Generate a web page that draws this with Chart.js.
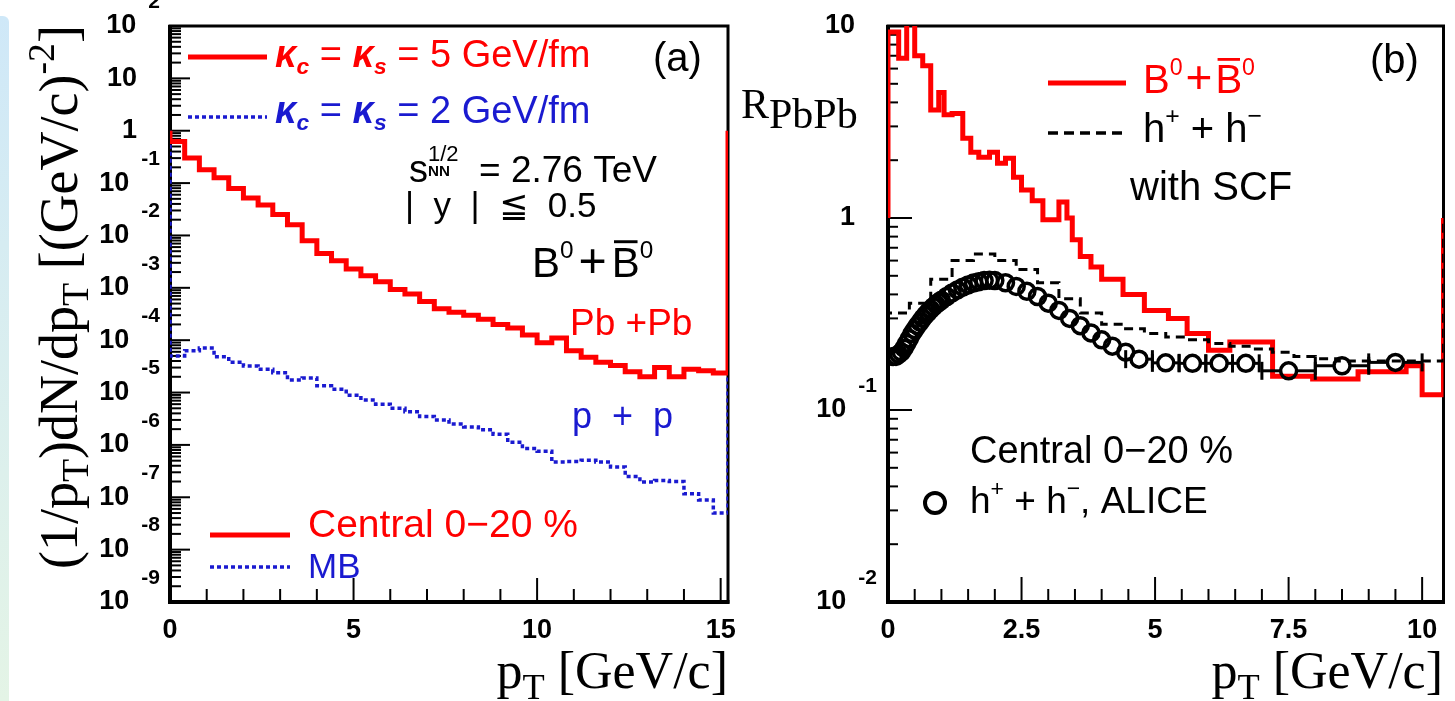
<!DOCTYPE html>
<html>
<head>
<meta charset="utf-8">
<script src="https://cdn.jsdelivr.net/npm/chart.js@4.4.0/dist/chart.umd.min.js"></script>
<style>
  body { margin: 0; background: #fff; width: 1455px; height: 701px; overflow: hidden; position: relative; }
  #strip { position: absolute; left: 0; top: 16px; width: 9px; height: 685px;
           background: linear-gradient(#cfe8f8, #e4f4e6); border-top-right-radius: 6px; }
  #ca { position: absolute; left: 0; top: 0; }
  #cb { position: absolute; left: 735px; top: 0; }
</style>
</head>
<body>
<div id="strip"></div>
<canvas id="ca" width="735" height="701"></canvas>
<canvas id="cb" width="720" height="701"></canvas>
<script>
const SANS = "'Liberation Sans', Arial, 'DejaVu Sans', sans-serif";
const SERIF = "'Liberation Serif', 'Times New Roman', serif";
const RED = "#f00";
const BLUE = "#1a1ad0";

// ---- panel (a): B0 pT spectra, bin edges in GeV/c ----
const ptEdgesA = [0, 0.4, 0.8, 1.2, 1.6, 2, 2.4, 2.8, 3.2, 3.6, 4, 4.4, 4.8, 5.2, 5.6, 6, 6.4, 6.8, 7.2, 7.6,
  8, 8.4, 8.8, 9.2, 9.6, 10, 10.4, 10.8, 11.2, 11.6, 12, 12.4, 12.8, 13.2, 13.6, 14, 14.4, 14.8, 15.2];
const centralA = [0.62, 0.3, 0.18, 0.126, 0.079, 0.052, 0.038, 0.025, 0.016, 0.0079,
  0.0045, 0.0033, 0.0023, 0.0017, 0.0013, 9.3e-4, 7.6e-4, 5.5e-4, 4.0e-4, 3.4e-4,
  3.0e-4, 2.5e-4, 2.0e-4, 1.7e-4, 1.26e-4, 8.9e-5, 1.1e-4, 6.3e-5, 4.7e-5, 3.8e-5,
  3.3e-5, 2.5e-5, 2.0e-5, 3.0e-5, 2.0e-5, 2.8e-5, 2.6e-5, 2.35e-5];
const mbA = [5.0e-5, 6.3e-5, 7.1e-5, 4.8e-5, 3.8e-5, 3.2e-5, 2.8e-5, 2.4e-5, 1.74e-5, 1.9e-5,
  1.35e-5, 1.15e-5, 8.9e-6, 7.2e-6, 6.0e-6, 5.0e-6, 4.3e-6, 3.5e-6, 3.0e-6, 2.5e-6,
  2.2e-6, 1.95e-6, 1.6e-6, 1.12e-6, 8.5e-7, 7.6e-7, 4.7e-7, 4.8e-7, 5.1e-7, 4.7e-7,
  3.8e-7, 2.5e-7, 1.95e-7, 2.1e-7, 2.0e-7, 1.17e-7, 8.9e-8, 5.0e-8];
const xTicksA = [0, 5, 10, 15];
const yExpA = [-9, -8, -7, -6, -5, -4, -3, -2, -1, 0, 1, 2];

// ---- panel (b): R_PbPb ----
const ptEdgesB = [0, 0.2, 0.35, 0.5, 0.65, 0.8, 0.95, 1.05, 1.2, 1.4, 1.55, 1.7, 1.9, 2.05, 2.2, 2.35, 2.5,
  2.7, 2.9, 3.0, 3.2, 3.35, 3.45, 3.6, 3.8, 4.0, 4.4, 4.8, 5.25, 5.6, 6.0, 6.4, 7.2, 7.95, 8.8, 9.7, 10.0, 10.4];
const raaB0 = [9.3, 6.8, 11, 7.0, 6.2, 3.65, 4.5, 3.45, 3.5, 2.6, 2.2, 2.07, 2.2, 1.93, 2.05, 1.63, 1.4,
  1.23, 0.98, 0.98, 1.21, 1.0, 0.77, 0.63, 0.556, 0.48, 0.4, 0.33, 0.3, 0.25, 0.205, 0.226, 0.15, 0.145,
  0.158, 0.17, 0.12];
const hadronEdges = [0, 0.4, 0.8, 1.2, 1.6, 2.0, 2.4, 2.8, 3.2, 3.6, 4.0, 4.4, 4.8, 5.2, 5.6, 6.0, 6.4,
  6.8, 7.2, 7.6, 8.0, 8.4, 8.8, 9.2, 9.6, 10.0, 10.4];
const raaHadronSCF = [0.32, 0.36, 0.48, 0.6, 0.65, 0.6, 0.54, 0.46, 0.38, 0.32, 0.28, 0.265, 0.25,
  0.24, 0.232, 0.222, 0.215, 0.208, 0.2, 0.19, 0.185, 0.18, 0.18, 0.18, 0.18, 0.18];
const aliceX = [0.1, 0.15, 0.2, 0.25, 0.3, 0.35, 0.4, 0.45, 0.5, 0.55, 0.6, 0.65, 0.7, 0.75, 0.8, 0.85,
  0.9, 0.95, 1.0, 1.1, 1.2, 1.3, 1.4, 1.5, 1.6, 1.7, 1.8, 1.9, 2.0, 2.2, 2.4, 2.6, 2.8, 3.0, 3.2, 3.4,
  3.6, 3.8, 4.0, 4.2, 4.45, 4.7, 5.2, 5.7, 6.2, 6.7, 7.5, 8.5, 9.5];
const aliceY = [0.19, 0.19, 0.195, 0.2, 0.21, 0.222, 0.235, 0.25, 0.262, 0.275, 0.287, 0.3, 0.312,
  0.323, 0.334, 0.345, 0.355, 0.364, 0.373, 0.39, 0.407, 0.422, 0.436, 0.448, 0.458, 0.466, 0.472,
  0.474, 0.472, 0.46, 0.44, 0.415, 0.39, 0.36, 0.33, 0.3, 0.275, 0.252, 0.232, 0.215, 0.2, 0.184,
  0.176, 0.175, 0.175, 0.175, 0.16, 0.17, 0.177];
const aliceXerr = [0.025, 0.025, 0.025, 0.025, 0.025, 0.025, 0.025, 0.025, 0.025, 0.025, 0.025, 0.025,
  0.025, 0.025, 0.025, 0.025, 0.025, 0.025, 0.025, 0.05, 0.05, 0.05, 0.05, 0.05, 0.05, 0.05, 0.05,
  0.05, 0.05, 0.1, 0.1, 0.1, 0.1, 0.1, 0.1, 0.1, 0.1, 0.1, 0.1, 0.1, 0.125, 0.25, 0.25, 0.25, 0.25,
  0.25, 0.5, 0.5, 0.5];
const xTicksB = [0, 2.5, 5, 7.5, 10];
const yExpB = [-2, -1, 0, 1];

// histogram outline as step points (ROOT style, closed up to 1 at both ends)
function hist(edges, vals) {
  const pts = [{ x: edges[0], y: 1 }];
  vals.forEach((v, i) => pts.push({ x: edges[i], y: v }));
  const last = edges[edges.length - 1];
  pts.push({ x: last, y: vals[vals.length - 1] });
  pts.push({ x: last, y: 1 });
  return pts;
}

// draw text made of pieces (sub/superscripts, overbar)
function txt(ctx, x, y, parts, o) {
  const segs = parts.map(p => (typeof p === "string" ? { t: p } : Object.assign({}, p)));
  let w = 0;
  segs.forEach(p => {
    const sz = o.size * (p.s || 1);
    p.font = (p.it ? "italic " : "") + (p.b || o.bold ? "bold " : "") + sz + "px " + (p.fam || o.fam || SANS);
    ctx.font = p.font;
    p.w = p.gap !== undefined ? p.gap : ctx.measureText(p.t).width;
    if (!p.noAdv) w += p.w;
  });
  let cx = o.align === "right" ? x - w : o.align === "center" ? x - w / 2 : x;
  ctx.fillStyle = o.color || "#000";
  ctx.strokeStyle = o.color || "#000";
  ctx.textAlign = "left";
  ctx.textBaseline = "alphabetic";
  segs.forEach(p => {
    const yy = y + (p.dy || 0) * o.size;
    ctx.font = p.font;
    if (p.t) ctx.fillText(p.t, cx, yy);
    if (p.bar) {
      ctx.lineWidth = o.size * 0.07;
      ctx.beginPath();
      ctx.moveTo(cx + p.w * 0.08, yy - o.size * 0.84);
      ctx.lineTo(cx + p.w * 0.92, yy - o.size * 0.84);
      ctx.stroke();
    }
    if (!p.noAdv) cx += p.w;
  });
}

function seg(ctx, x0, y0, x1, y1) {
  ctx.beginPath(); ctx.moveTo(x0, y0); ctx.lineTo(x1, y1); ctx.stroke();
}

function legendLine(ctx, x0, x1, y, color, width, dash) {
  ctx.save();
  ctx.strokeStyle = color; ctx.lineWidth = width; ctx.setLineDash(dash || []);
  seg(ctx, x0, y, x1, y);
  ctx.restore();
}

const bMeson = gap => ["B", { t: "0", s: 0.58, dy: -0.45 }, { t: "", gap: gap }, { t: "+", s: 1.15 },
  { t: "", gap: gap }, { t: "B", bar: true }, { t: "0", s: 0.58, dy: -0.45 }];

// ROOT-like frame, inward ticks and labels
function rootAxes(cfg) {
  return {
    id: "rootAxes",
    beforeDatasetsDraw(chart) {
      const { ctx, chartArea: a, scales: { x, y } } = chart;
      ctx.save();
      ctx.strokeStyle = "#000";
      ctx.lineWidth = 3;
      ctx.strokeRect(a.left, a.top, a.right - a.left, a.bottom - a.top);
      ctx.lineWidth = 4;
      seg(ctx, a.left, a.top - 1, a.left, a.bottom + 2);
      seg(ctx, a.left - 2, a.bottom, a.right + 1.5, a.bottom);
      ctx.lineWidth = 2;
      for (let i = 0; i * cfg.xMinor <= x.max + 1e-9; i++) {
        const v = i * cfg.xMinor;
        const major = Math.abs(v / cfg.xMajor - Math.round(v / cfg.xMajor)) < 1e-6;
        const px = x.getPixelForValue(v);
        seg(ctx, px, a.bottom, px, a.bottom - (major ? cfg.xMajLen : cfg.xMinLen));
      }
      const e0 = Math.round(Math.log10(y.min)), e1 = Math.round(Math.log10(y.max));
      for (let e = e0; e < e1; e++) {
        for (let k = 1; k <= 9; k++) {
          const py = y.getPixelForValue(k * Math.pow(10, e));
          seg(ctx, a.left, py, a.left + (k === 1 ? cfg.yMajLen : cfg.yMinLen), py);
        }
      }
      ctx.restore();
    },
    afterDraw(chart) {
      const { ctx, chartArea: a, scales: { x, y } } = chart;
      ctx.save();
      ctx.fillStyle = "#000";
      ctx.textBaseline = "alphabetic";
      ctx.textAlign = "center";
      ctx.font = "bold 27px " + SANS;
      cfg.xTicks.forEach(v => ctx.fillText(String(v), x.getPixelForValue(v), 638));
      ctx.textAlign = "right";
      ctx.textBaseline = "middle";
      cfg.yExps.forEach(e => {
        const py = y.getPixelForValue(Math.pow(10, e));
        if (e === 0 || e === 1) {
          ctx.font = "bold 27px " + SANS;
          ctx.fillText(e === 0 ? "1" : "10", a.left - 33, py);
        } else {
          ctx.font = "bold 21px " + SANS;
          const es = String(e);
          ctx.fillText(es, a.left - cfg.expOff, py - 24);
          const ew = ctx.measureText(es).width;
          ctx.font = "bold 27px " + SANS;
          ctx.fillText("10", a.left - cfg.expOff - ew - 12, py);
        }
      });
      ctx.restore();
      ctx.save();
      cfg.annotate(ctx, chart);
      ctx.restore();
    }
  };
}

// ---------------- panel (a) ----------------
new Chart(document.getElementById("ca"), {
  type: "line",
  data: {
    datasets: [
      { label: "Central 0-20 %", data: hist(ptEdgesA, centralA), borderColor: RED, borderWidth: 5, stepped: true },
      { label: "MB", data: hist(ptEdgesA, mbA), borderColor: BLUE, borderWidth: 3.5, borderDash: [4, 3], stepped: true }
    ]
  },
  options: {
    responsive: false,
    animation: false,
    layout: { padding: { left: 170, top: 26, right: 7, bottom: 99 } },
    plugins: { legend: { display: false }, tooltip: { enabled: false } },
    elements: { point: { radius: 0 } },
    scales: {
      x: { type: "linear", min: 0, max: 15.2, display: false },
      y: { type: "logarithmic", min: 1e-9, max: 100, display: false }
    }
  },
  plugins: [rootAxes({
    xMinor: 1, xMajor: 5, xMajLen: 24, xMinLen: 13, yMajLen: 20, yMinLen: 11,
    xTicks: xTicksA, yExps: yExpA, expOff: 10,
    annotate(ctx) {
      const kap = val => [{ t: "κ", it: true, b: true }, { t: "c", s: 0.6, dy: 0.18, it: true, b: true },
        " = ", { t: "κ", it: true, b: true }, { t: "s", s: 0.6, dy: 0.18, it: true, b: true }, " = " + val + " GeV/fm"];
      legendLine(ctx, 188, 267, 57, RED, 5);
      txt(ctx, 275, 67, kap(5), { size: 38, color: RED });
      legendLine(ctx, 188, 267, 117, BLUE, 3.5, [4, 3]);
      txt(ctx, 275, 123, kap(2), { size: 38, color: BLUE });
      txt(ctx, 653, 71, ["(a)"], { size: 40 });
      txt(ctx, 409, 182, ["s", { t: "NN", s: 0.4, dy: -0.17, b: true, noAdv: true }, { t: "1/2", s: 0.58, dy: -0.56 }], { size: 38 });
      txt(ctx, 479, 182, ["= 2.76 TeV"], { size: 37 });
      txt(ctx, 405, 217, ["|  y  |  ≦  0.5"], { size: 35 });
      txt(ctx, 532, 277, bMeson(5), { size: 42 });
      txt(ctx, 570, 335, ["Pb +Pb"], { size: 37, color: RED });
      txt(ctx, 572, 428, ["p  +  p"], { size: 36, color: BLUE });
      legendLine(ctx, 210, 290, 535, RED, 5);
      txt(ctx, 308, 537, ["Central 0−20 %"], { size: 39, color: RED });
      legendLine(ctx, 210, 290, 567, BLUE, 3.5, [4, 3]);
      txt(ctx, 308, 578, ["MB"], { size: 35, color: BLUE });
      txt(ctx, 728, 688, ["p", { t: "T", s: 0.7, dy: 0.22 }, " [GeV/c]"], { size: 52, fam: SERIF, align: "right" });
      ctx.translate(77, 25);
      ctx.rotate(-Math.PI / 2);
      txt(ctx, 0, 0, ["(1/p", { t: "T", s: 0.7, dy: 0.2 }, ")dN/dp", { t: "T", s: 0.7, dy: 0.2 }, " [(GeV/c)",
        { t: "-2", s: 0.7, dy: -0.42 }, "]"], { size: 54, fam: SERIF, align: "right" });
    }
  })]
});

// ---------------- panel (b) ----------------
const OX = 735;
const aliceBars = {
  id: "aliceBars",
  afterDatasetsDraw(chart) {
    const { ctx, scales: { x, y } } = chart;
    ctx.save();
    ctx.strokeStyle = "#000";
    ctx.lineWidth = 3;
    aliceX.forEach((v, i) => {
      const px = x.getPixelForValue(v), py = y.getPixelForValue(aliceY[i]);
      const x0 = x.getPixelForValue(v - aliceXerr[i]), x1 = x.getPixelForValue(v + aliceXerr[i]);
      if (x0 < px - 8) seg(ctx, x0, py, px - 8, py);
      if (x1 > px + 8) seg(ctx, px + 8, py, x1, py);
      if (aliceXerr[i] >= 0.25) {
        seg(ctx, x0, py - 9, x0, py + 9);
        seg(ctx, x1, py - 9, x1, py + 9);
      }
    });
    ctx.restore();
  }
};

new Chart(document.getElementById("cb"), {
  type: "line",
  data: {
    datasets: [
      { label: "h+ + h-, ALICE", data: aliceX.map((v, i) => ({ x: v, y: aliceY[i] })), showLine: false,
        pointStyle: "circle", pointRadius: 8, pointBorderWidth: 3.5, pointBorderColor: "#000",
        pointBackgroundColor: "rgba(0,0,0,0)" },
      { label: "h+ + h- with SCF", data: hist(hadronEdges, raaHadronSCF), borderColor: "#000", borderWidth: 3,
        borderDash: [9, 6], stepped: true, pointRadius: 0 },
      { label: "B0 + B0bar", data: hist(ptEdgesB, raaB0), borderColor: RED, borderWidth: 5, stepped: true, pointRadius: 0 }
    ]
  },
  options: {
    responsive: false,
    animation: false,
    layout: { padding: { left: 888 - OX, top: 26, right: 9, bottom: 99 } },
    plugins: { legend: { display: false }, tooltip: { enabled: false } },
    scales: {
      x: { type: "linear", min: 0, max: 10.4, display: false },
      y: { type: "logarithmic", min: 0.01, max: 10, display: false }
    }
  },
  plugins: [aliceBars, rootAxes({
    xMinor: 0.5, xMajor: 2.5, xMajLen: 25, xMinLen: 13, yMajLen: 24, yMinLen: 10,
    xTicks: xTicksB, yExps: yExpB, expOff: 11,
    annotate(ctx) {
      ctx.translate(-OX, 0);
      txt(ctx, 741, 118, ["R", { t: "PbPb", dy: 0.24 }], { size: 42, fam: SERIF });
      legendLine(ctx, 1048, 1126, 83, RED, 5);
      txt(ctx, 1143, 93, bMeson(3), { size: 40, color: RED });
      legendLine(ctx, 1048, 1124, 133, "#000", 3.5, [10, 6]);
      txt(ctx, 1143, 142, ["h", { t: "+", s: 0.62, dy: -0.45 }, " + h", { t: "−", s: 0.62, dy: -0.45 }], { size: 40 });
      txt(ctx, 1130, 200, ["with SCF"], { size: 40 });
      txt(ctx, 1370, 73, ["(b)"], { size: 40 });
      txt(ctx, 970, 463, ["Central 0−20 %"], { size: 38 });
      ctx.strokeStyle = "#000";
      ctx.lineWidth = 4;
      ctx.beginPath(); ctx.arc(935, 503, 10, 0, 2 * Math.PI); ctx.stroke();
      txt(ctx, 970, 513, ["h", { t: "+", s: 0.62, dy: -0.45 }, " + h", { t: "−", s: 0.62, dy: -0.45 }, ", ALICE"], { size: 37 });
      txt(ctx, 1443, 688, ["p", { t: "T", s: 0.7, dy: 0.22 }, " [GeV/c]"], { size: 52, fam: SERIF, align: "right" });
    }
  })]
});
</script>
</body>
</html>
